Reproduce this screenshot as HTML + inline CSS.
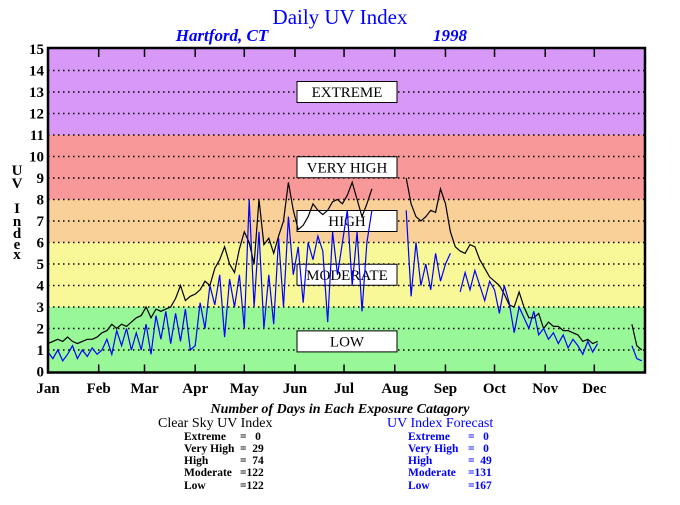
<!DOCTYPE html>
<html><head><meta charset="utf-8"><style>
body{margin:0;background:#fff;width:680px;height:500px;overflow:hidden}
svg text{font-family:"Liberation Serif",serif}
</style></head><body>
<svg id="chart" width="680" height="500" xmlns="http://www.w3.org/2000/svg">
<g id="bands"></g><g id="grid"></g>
<g id="labels"></g>
<g id="series"></g>
<g id="axes"></g>
<text x="340" y="24" text-anchor="middle" font-size="21" fill="#0000ff">Daily UV Index</text>
<text x="222" y="41" text-anchor="middle" font-size="17" font-weight="bold" font-style="italic" fill="#0000ff">Hartford, CT</text>
<text x="450" y="41" text-anchor="middle" font-size="17" font-weight="bold" font-style="italic" fill="#0000ff">1998</text>
<g font-size="15" font-weight="bold" text-anchor="middle">
<text x="17" y="175">U</text><text x="17" y="188">V</text><text x="17" y="213">I</text><text x="17" y="226">n</text><text x="17" y="238">d</text><text x="17" y="249">e</text><text x="17" y="259">x</text>
</g>
<g>
<text x="340" y="413" text-anchor="middle" font-size="14" font-style="italic" font-weight="bold" fill="#000">Number of Days in Each Exposure Catagory</text>
<text x="158" y="427" font-size="14" fill="#000">Clear Sky UV Index</text>
<g font-size="11.5" font-weight="bold" fill="#000">
<text x="184" y="440">Extreme</text><text x="240" y="440">=&#160;&#160;&#160;0</text>
<text x="184" y="452">Very High</text><text x="240" y="452">=&#160;&#160;29</text>
<text x="184" y="464">High</text><text x="240" y="464">=&#160;&#160;74</text>
<text x="184" y="476">Moderate</text><text x="240" y="476">=122</text>
<text x="184" y="489">Low</text><text x="240" y="489">=122</text>
</g>
<text x="387" y="427" font-size="14" fill="#0000ff">UV Index Forecast</text>
<g font-size="11.5" font-weight="bold" fill="#0000ff">
<text x="408" y="440">Extreme</text><text x="468" y="440">=&#160;&#160;&#160;0</text>
<text x="408" y="452">Very High</text><text x="468" y="452">=&#160;&#160;&#160;0</text>
<text x="408" y="464">High</text><text x="468" y="464">=&#160;&#160;49</text>
<text x="408" y="476">Moderate</text><text x="468" y="476">=131</text>
<text x="408" y="489">Low</text><text x="468" y="489">=167</text>
</g>
</g>
</svg>
<script>
const months=["Jan","Feb","Mar","Apr","May","Jun","Jul","Aug","Sep","Oct","Nov","Dec"];
const monthStartDays=[0,31,59,90,120,151,181,212,243,273,304,334];
const yTicks=[0,1,2,3,4,5,6,7,8,9,10,11,12,13,14,15];
const bandNames=["LOW","MODERATE","HIGH","VERY HIGH","EXTREME"];
const bandLow=[0,3,6,8,11];
const bandHigh=[3,6,8,11,15];
const bandLabelValue=[1.4,4.5,7.0,9.5,13.0];
const bandColors=["#98f898","#f8f898","#f8d098","#f89898","#d898f8"];
const sampleStep=3;
const clearSky=[1.3,1.4,1.5,1.4,1.6,1.4,1.3,1.4,1.5,1.5,1.6,
1.8,1.9,2.2,2.0,2.2,2.1,2.3,2.5,2.6,
3.0,2.5,2.9,2.8,2.9,3.0,3.4,4.0,3.3,3.5,
3.6,3.8,4.2,4.0,4.8,5.2,5.8,5.0,4.6,5.7,
6.5,6.0,5.0,8.0,5.9,6.2,5.5,6.3,7.0,8.8,7.5,
6.6,6.8,7.2,7.8,7.5,7.3,7.5,7.9,8.0,7.8,
8.2,8.8,8.0,7.2,7.8,8.5,null,null,null,null,null,null,9.0,
7.8,7.2,7.0,7.2,7.5,7.4,8.5,7.8,
6.5,5.8,5.6,5.5,5.9,5.8,5.2,4.8,4.4,
4.2,4.0,3.6,3.1,3.0,3.7,3.0,2.5,2.5,2.7,2.0,
2.3,2.1,2.1,1.9,1.9,1.8,1.7,1.4,1.5,1.3,
1.4,null,1.3,null,null,null,null,2.2,1.2,1.0];
const forecast=[0.9,0.6,1.0,0.5,0.8,1.2,0.6,1.0,0.7,1.1,0.8,
1.0,1.5,0.8,1.9,1.2,2.0,1.0,1.8,1.0,
2.2,0.8,2.6,1.5,2.8,1.3,2.7,1.4,2.9,1.0,
1.2,3.2,2.0,4.0,3.1,4.5,1.6,4.3,3.0,4.5,
2.0,8.0,3.0,6.5,2.0,4.5,2.2,6.2,3.0,7.2,4.5,
5.8,3.2,6.0,5.2,6.3,5.6,2.3,6.5,4.5,6.0,
7.5,4.0,6.5,2.8,6.0,7.5,null,null,null,null,null,null,7.5,
3.5,6.0,4.0,5.0,3.8,5.5,4.2,5.0,
5.5,null,3.7,4.6,3.8,4.7,4.0,3.3,4.2,
3.8,2.7,4.0,3.2,1.8,3.0,2.5,2.0,2.8,1.7,2.0,
1.5,1.8,1.3,1.7,1.1,1.5,1.2,0.8,1.4,0.9,
1.3,null,0.8,null,null,null,null,1.2,0.6,0.5];

const L=48,R=645,T=49,B=371.5;
const x=d=>L+(R-L)*d/365;
const y=v=>B-(B-T)*v/15;
const NS="http://www.w3.org/2000/svg";
function mk(tag,parent,attrs){const e=document.createElementNS(NS,tag);for(const k in attrs)e.setAttribute(k,attrs[k]);document.getElementById(parent).appendChild(e);return e;}

bandLow.forEach((lo,i)=>{
 const r=mk('rect','bands',{x:L,y:y(bandHigh[i]),width:R-L,height:y(lo)-y(bandHigh[i]),fill:bandColors[i]});
 
 
});
yTicks.forEach(v=>{
 if(v>0&&v<15){const g=mk('line','grid',{x1:L,x2:R,y1:y(v),y2:y(v),stroke:'#000','stroke-width':1.5,'stroke-dasharray':'1.5 3.5'});
 
 }
 const t=mk('text','axes',{x:44,y:y(v)+5,'text-anchor':'end','font-size':15,'font-weight':'bold'});
 
 
 t.textContent=v;
});
bandNames.forEach((n,i)=>{
 const cy=y(bandLabelValue[i]);
 const r=mk('rect','labels',{x:297,y:cy-10.5,width:100,height:21,fill:'#fff',stroke:'#000','stroke-width':1});
 
 
 const t=mk('text','labels',{x:347,y:cy+5,'text-anchor':'middle','font-size':15});
 
 
 t.textContent=n;
});
function drawSeries(arr,color,name){
 let d='',pen=false;
 arr.forEach((v,i)=>{
  if(v===null){pen=false;return;}
  d+=(pen?'L':'M')+x(i*sampleStep).toFixed(1)+' '+y(v).toFixed(1)+' ';pen=true;
 });
 const p=mk('path','series',{d:d,fill:'none',stroke:color,'stroke-width':1.2});
 
 
}
drawSeries(clearSky,'#000','clear-sky-line');
drawSeries(forecast,'#0000ff','forecast-line');
months.forEach((m,i)=>{
 const xx=x(monthStartDays[i]);
 if(i>0){
  const a=mk('line','axes',{x1:xx,x2:xx,y1:T,y2:T+8,stroke:'#000','stroke-width':1.5});
  
  
  const b=mk('line','axes',{x1:xx,x2:xx,y1:B,y2:B-7,stroke:'#000','stroke-width':1.5});
  
  
 }
 const t=mk('text','axes',{x:xx,y:393,'text-anchor':'middle','font-size':15,'font-weight':'bold'});
 
 
 t.textContent=m;
});
const f=mk('rect','axes',{x:L,y:T-1,width:R-L,height:B-T+2,fill:'none',stroke:'#000','stroke-width':2.5});


</script>
</body></html>
